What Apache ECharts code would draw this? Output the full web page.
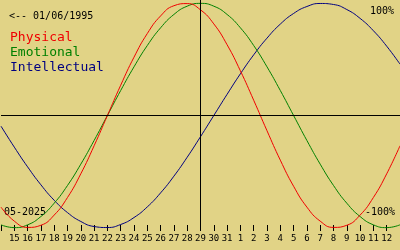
<!DOCTYPE html>
<html>
<head>
<meta charset="utf-8">
<script src="https://cdn.jsdelivr.net/npm/echarts@6/dist/echarts.min.js"></script>
<style>
html,body{margin:0;padding:0;background:#e1d386;}
#c{width:400px;height:250px;}
</style>
</head>
<body>
<div id="c"></div>
<script>
// Day labels (14 May 2025 .. 13 June 2025), centre day = 29
var days = ['14','15','16','17','18','19','20','21','22','23','24','25','26','27','28','29','30','31',
            '1','2','3','4','5','6','7','8','9','10','11','12','13'];
var centerDay = '29';
// Biorhythm values in percent
var physical = [-81.7,-94.2,-99.8,-97.9,-88.8,-73.1,-52.0,-27.0,0,27.0,52.0,73.1,88.8,97.9,99.8,94.2,81.7,63.1,39.8,13.6,-13.6,-39.8,-63.1,-81.7,-94.2,-99.8,-97.9,-88.8,-73.1,-52.0,-27.0];
var emotional = [-97.5,-100,-97.5,-90.1,-78.2,-62.4,-43.4,-22.3,0,22.3,43.4,62.4,78.2,90.1,97.5,100,97.5,90.1,78.2,62.4,43.4,22.3,0,-22.3,-43.4,-62.4,-78.2,-90.1,-97.5,-100,-97.5];
var intellectual = [-9.5,-28.2,-45.8,-61.8,-75.6,-86.6,-94.5,-99.0,-99.9,-97.2,-91.0,-81.5,-69.0,-54.1,-37.2,-18.9,0,18.9,37.2,54.1,69.0,81.5,91.0,97.2,99.9,99.0,94.5,86.6,75.6,61.8,45.8];
var seriesNames = ['Physical','Emotional','Intellectual'];
var seriesColors = ['#f00000','#008000','#000080'];
var birthText = '<-- 01/06/1995';
var monthText = '05-2025';
var topText = '100%';
var bottomText = '-100%';

var mono = '"DejaVu Sans Mono", monospace';
var chart = echarts.init(document.getElementById('c'), null, {renderer:'canvas'});
chart.setOption({
  animation: false,
  backgroundColor: '#e1d386',
  grid: {left: 1, right: 0, top: 0, bottom: 19},
  legend: {
    show: true, orient: 'vertical', left: 5, top: 31, padding: 0,
    itemWidth: 0, itemHeight: 13, itemGap: 2, icon: 'none', selectedMode: false,
    textStyle: {fontFamily: mono, fontSize: 13},
    data: [
      {name: seriesNames[0], textStyle: {color: seriesColors[0]}},
      {name: seriesNames[1], textStyle: {color: seriesColors[1]}},
      {name: seriesNames[2], textStyle: {color: seriesColors[2]}}
    ]
  },
  xAxis: {
    type: 'category', data: days, boundaryGap: false,
    axisLine: {show: false, onZero: false},
    axisTick: {show: true, inside: true, length: 6, interval: 0, lineStyle: {color: '#000', width: 1}},
    axisLabel: {show: true, margin: 3,
      interval: function (i) { return i > 0 && i < days.length - 1; },
      color: '#000', fontFamily: mono, fontSize: 9},
    splitLine: {show: false}
  },
  yAxis: {
    type: 'value', min: -103, max: 103,
    axisLine: {show: false}, axisTick: {show: false}, axisLabel: {show: false}, splitLine: {show: false}
  },
  graphic: [
    {type: 'text', left: 9, top: 11, style: {text: birthText, font: '10px ' + mono, fill: '#000'}},
    {type: 'text', right: 6, top: 6, style: {text: topText, font: '10px ' + mono, fill: '#000'}},
    {type: 'text', right: 5, top: 207, style: {text: bottomText, font: '10px ' + mono, fill: '#000'}},
    {type: 'text', left: 4, top: 207, style: {text: monthText, font: '10px ' + mono, fill: '#000'}}
  ],
  series: [
    {name: seriesNames[2], type: 'line', data: intellectual, smooth: true, symbol: 'none',
      lineStyle: {color: seriesColors[2], width: 1}, itemStyle: {color: seriesColors[2]},
      markLine: {silent: true, symbol: ['none','none'], label: {show: false},
        lineStyle: {color: '#000', width: 1, type: 'solid'},
        data: [{yAxis: 0}, {xAxis: centerDay}]}},
    {name: seriesNames[1], type: 'line', data: emotional, smooth: true, symbol: 'none',
      lineStyle: {color: seriesColors[1], width: 1}, itemStyle: {color: seriesColors[1]}},
    {name: seriesNames[0], type: 'line', data: physical, smooth: true, symbol: 'none',
      lineStyle: {color: seriesColors[0], width: 1}, itemStyle: {color: seriesColors[0]}}
  ]
});
</script>
</body>
</html>
